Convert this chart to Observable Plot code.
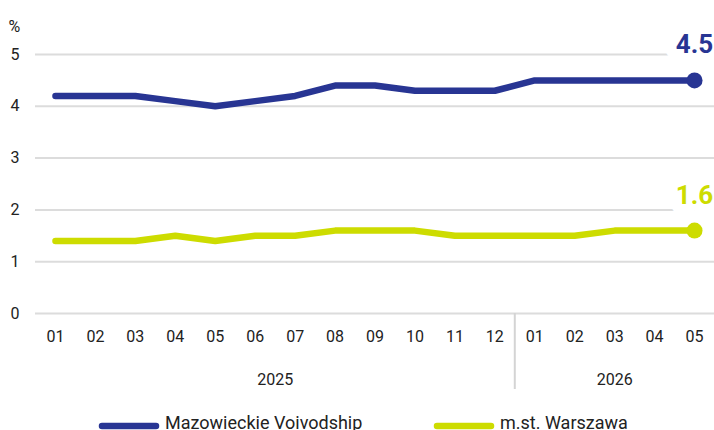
<!DOCTYPE html>
<html>
<head>
<meta charset="utf-8">
<script src="https://cdn.jsdelivr.net/npm/d3@7"></script>
<script src="https://cdn.jsdelivr.net/npm/@observablehq/plot@0.6"></script>
<style>
  html, body { margin: 0; padding: 0; background: #fff; }
  body { font-family: Roboto, "Noto Sans", sans-serif; width: 714px; height: 430px; overflow: hidden; }
  #chart svg { display: block; }
  #legend { position: relative; height: 30px; font-size: 18px; color: #222; }
  #legend .sw { position: absolute; top: 21px; display: block; }
  #legend .lb { position: absolute; top: 12px; line-height: 22px; white-space: nowrap; }
</style>
</head>
<body>
<div id="chart"></div>
<div id="legend"></div>
<script>
// ---- data ----
const months = ["01","02","03","04","05","06","07","08","09","10","11","12","01","02","03","04","05"];
const monthYears = ["2025","2025","2025","2025","2025","2025","2025","2025","2025","2025","2025","2025","2026","2026","2026","2026","2026"];
const years = ["2025", "2026"];
const mazowieckie = [4.2, 4.2, 4.2, 4.1, 4.0, 4.1, 4.2, 4.4, 4.4, 4.3, 4.3, 4.3, 4.5, 4.5, 4.5, 4.5, 4.5];
const warszawa    = [1.4, 1.4, 1.4, 1.5, 1.4, 1.5, 1.5, 1.6, 1.6, 1.6, 1.5, 1.5, 1.5, 1.5, 1.6, 1.6, 1.6];
const seriesNames = ["Mazowieckie Voivodship", "m.st. Warszawa"];
const seriesColors = ["#283593", "#cddc00"];
const yTicks = [0, 1, 2, 3, 4, 5];
const yUnit = "%";

// ---- build table ----
const seriesValues = [mazowieckie, warszawa];
const data = seriesNames.flatMap((s, k) => seriesValues[k].map((v, i) => ({i, v, s})));
const last = data.filter(d => d.i === months.length - 1);
const idx = d3.range(months.length);
const yearData = years.map(y => {
  const ii = idx.filter(i => monthYears[i] === y);
  return {year: y, mid: d3.mean(ii)};
});
const yearBreaks = idx.filter(i => i > 0 && monthYears[i] !== monthYears[i - 1]).map(i => i - 0.5);

const chart = Plot.plot({
  width: 714,
  height: 400,
  marginLeft: 35,
  marginRight: 0,
  marginTop: 54,
  marginBottom: 87,
  style: {fontFamily: "Roboto, 'Noto Sans', sans-serif", fontSize: "16px", color: "#222", background: "#fff"},
  x: {type: "linear", domain: [-0.5, months.length - 0.5], axis: null},
  y: {domain: [0, 5], axis: null},
  color: {domain: seriesNames, range: seriesColors},
  marks: [
    Plot.ruleY(yTicks, {stroke: "#dcdcdc", strokeWidth: 2}),
    Plot.axisY(yTicks, {tickSize: 0, tickPadding: 16, tickFormat: d => String(d), label: null, fontSize: 16, fill: "#222"}),
    Plot.text([yUnit], {frameAnchor: "top-left", dx: -27, dy: -34, textAnchor: "start", fontSize: 16, fill: "#222"}),
    Plot.axisX(idx, {tickSize: 0, tickPadding: 17, tickFormat: i => months[i], label: null, fontSize: 16, fill: "#222"}),
    Plot.ruleX(yearBreaks, {stroke: "#d4d4d4", strokeWidth: 2, insetTop: 259, insetBottom: -76}),
    Plot.text(yearData, {x: "mid", text: "year", frameAnchor: "bottom", dy: 71, fontSize: 16, fill: "#222"}),
    Plot.line(data, {x: "i", y: "v", z: "s", stroke: "s", strokeWidth: 6.5, strokeLinejoin: "round", strokeLinecap: "round"}),
    Plot.dot(last, {x: "i", y: "v", fill: "s", r: 8}),
    Plot.text(last, {x: "i", y: "v", text: d => d.v.toFixed(1), fill: "s", fontSize: 26, fontWeight: "bold",
      lineAnchor: "bottom", dy: -27, stroke: "white", strokeWidth: 22, strokeLinejoin: "round"})
  ]
});
document.getElementById("chart").appendChild(chart);

// ---- legend ----
const legend = document.getElementById("legend");
const legendLeft = [100, 435];
seriesNames.forEach((name, k) => {
  const sw = document.createElementNS("http://www.w3.org/2000/svg", "svg");
  sw.setAttribute("class", "sw");
  sw.setAttribute("width", 62);
  sw.setAttribute("height", 10);
  sw.style.left = (legendLeft[k] - 2) + "px";
  const ln = document.createElementNS("http://www.w3.org/2000/svg", "line");
  ln.setAttribute("x1", 4); ln.setAttribute("x2", 58);
  ln.setAttribute("y1", 5); ln.setAttribute("y2", 5);
  ln.setAttribute("stroke", seriesColors[k]);
  ln.setAttribute("stroke-width", 6.5);
  ln.setAttribute("stroke-linecap", "round");
  sw.appendChild(ln);
  legend.appendChild(sw);
  const lb = document.createElement("span");
  lb.className = "lb";
  lb.style.left = (legendLeft[k] + 65) + "px";
  lb.textContent = name;
  legend.appendChild(lb);
});
</script>
</body>
</html>
